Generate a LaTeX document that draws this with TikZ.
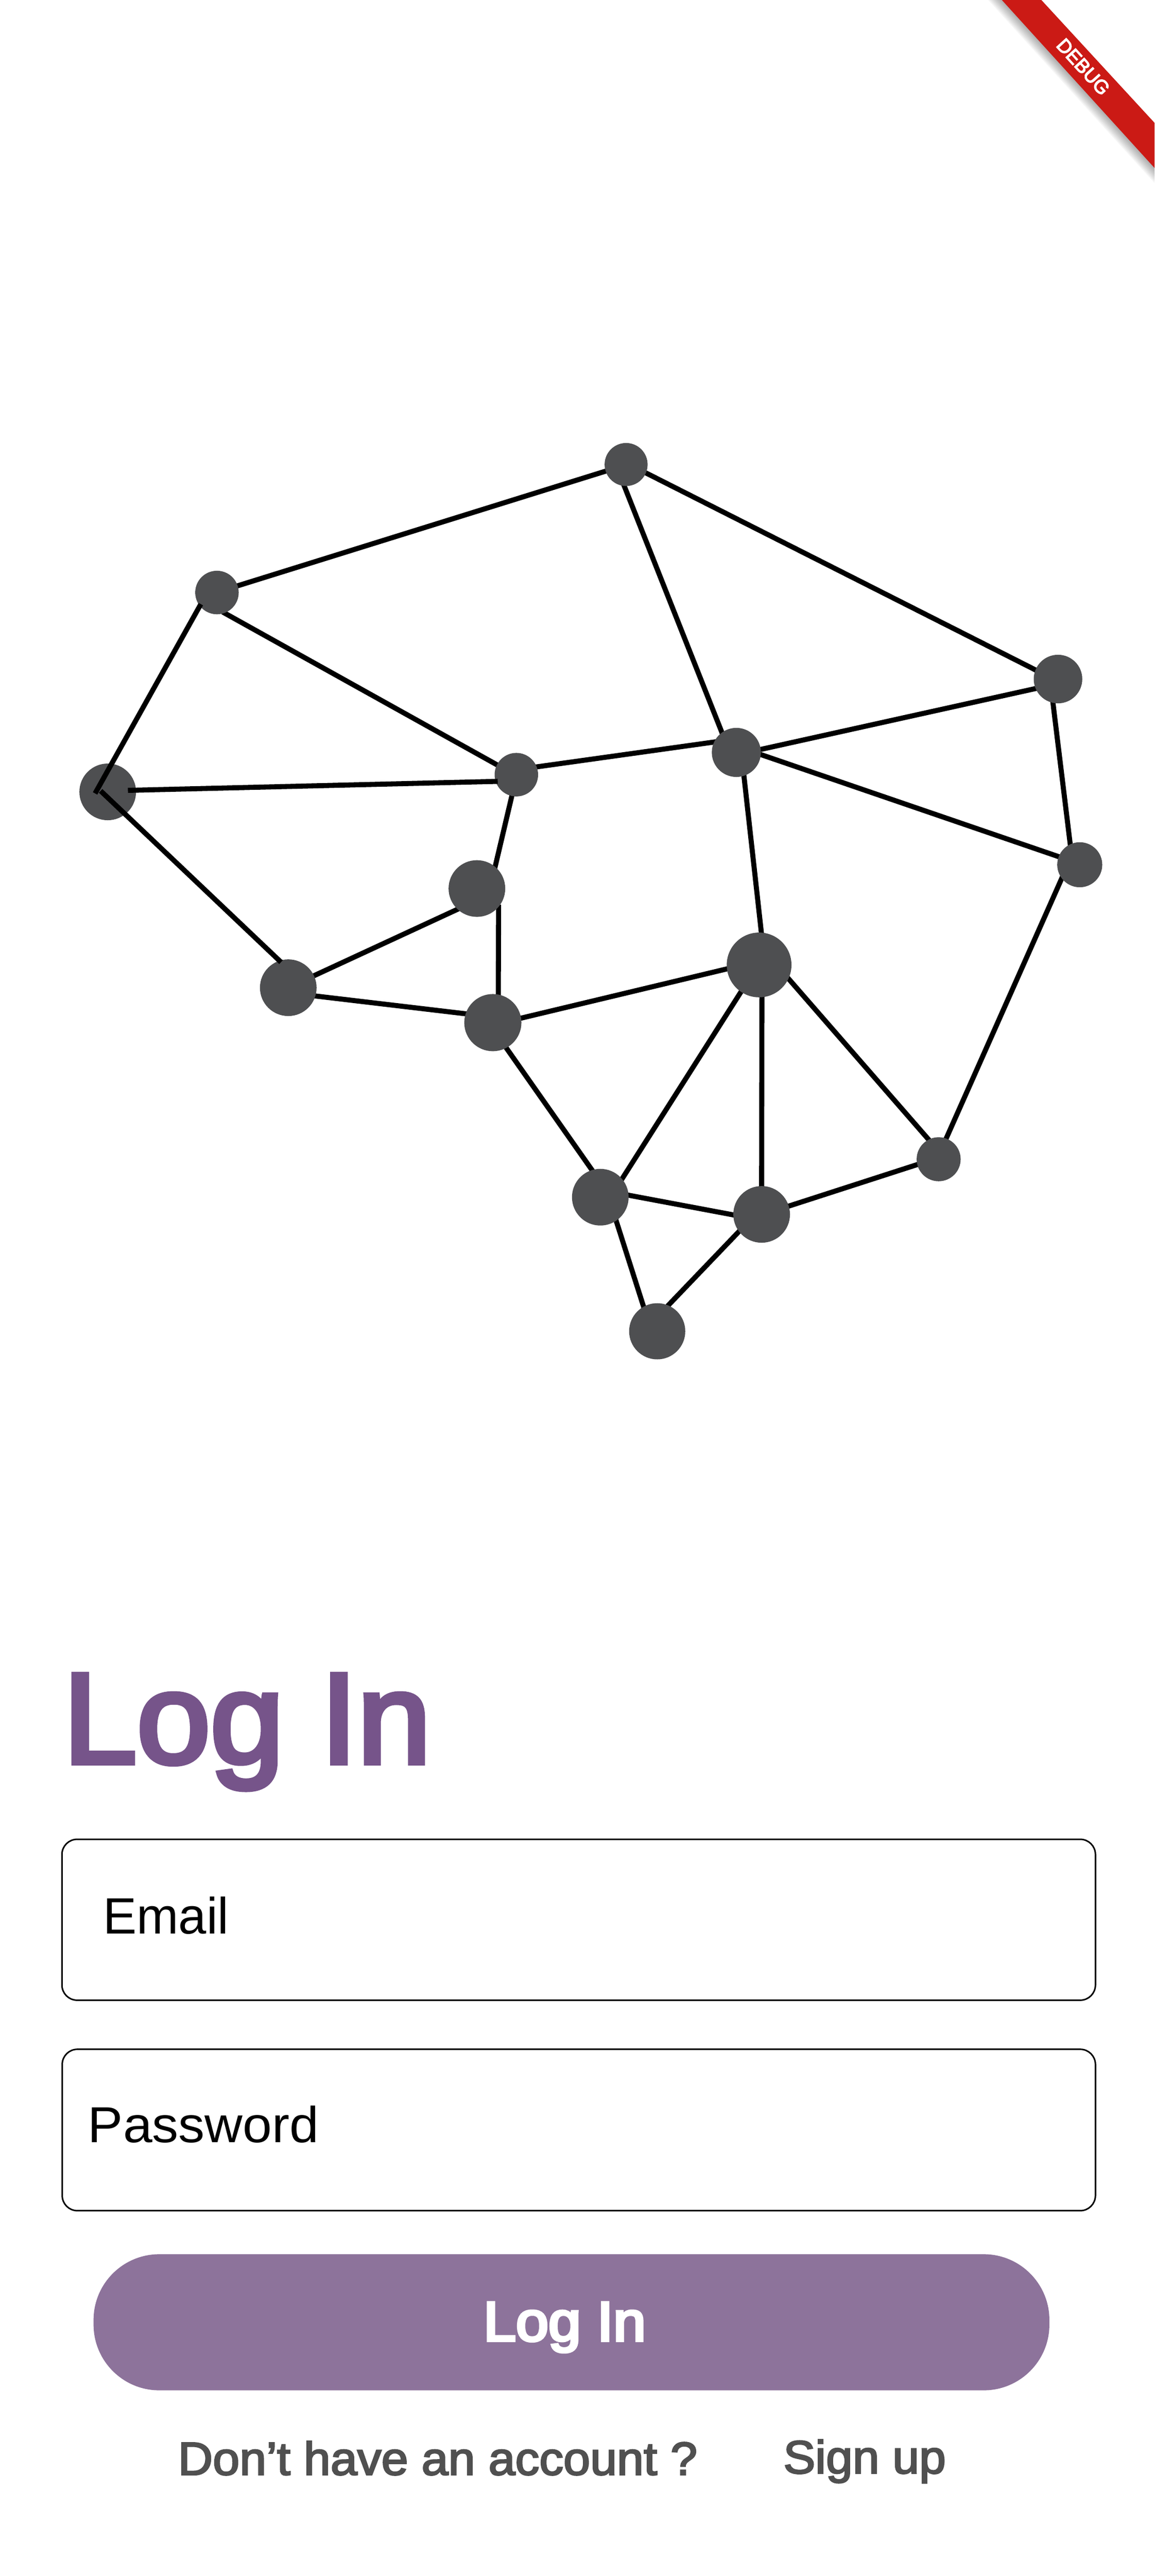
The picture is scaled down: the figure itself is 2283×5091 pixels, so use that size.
\documentclass[tikz,border=0pt]{standalone}
\usepackage{fontspec}
\setmainfont{Liberation Sans}
\newfontfamily\titlef[FakeBold=4]{Liberation Sans}
\newfontfamily\medf[FakeBold=3]{Liberation Sans}
\newfontfamily\tinyf[FakeBold=4]{Liberation Sans}
\newfontfamily\semif[FakeBold=5]{Liberation Sans}
\usetikzlibrary{backgrounds}
\definecolor{dotgray}{HTML}{4E4F51}
\definecolor{titlepurple}{HTML}{76548A}
\definecolor{btnpurple}{HTML}{8D739B}
\definecolor{bannerred}{HTML}{CB1A15}
\definecolor{mutedtext}{HTML}{505050}
\tikzset{
  dot/.style={circle,fill=dotgray,draw=none,inner sep=0pt,outer sep=0pt,minimum size=#1},
  link/.style={draw=black,line width=10pt,shorten <=-4pt,shorten >=-4pt},
  toplink/.style={draw=black,line width=10pt},
  inputbox/.style={draw=black,line width=3pt,rounded corners=30pt,fill=white},
  lbl/.style={anchor=base west,inner sep=0pt,outer sep=0pt}
}
\begin{document}
\begin{tikzpicture}[x=1pt,y=-1pt]
\path[use as bounding box] (0,0) rectangle (2283,5091);
% banner
\begin{scope}
\clip (0,0) rectangle (2283,5091);
\foreach \k in {3,6,...,27}{
  \fill[black,opacity=0.04] (1981-\k,0) -- (2283,{332+1.1*\k}) -- (2283,243) -- (2059,0) -- cycle;
}
\fill[bannerred] (1981,0) -- (2059,0) -- (2283,243) -- (2283,332) -- cycle;
\end{scope}
\node[text=white,inner sep=0pt,rotate=-47.7] (debug) at (2142,132) {\fontsize{38}{38}\tinyf DEBUG};
% graph nodes
\node[dot=85pt] (A) at (1238,918) {};
\node[dot=86pt] (B) at (429,1171) {};
\node[dot=112pt] (C) at (213,1565) {};
\node[dot=96pt] (D) at (2092,1342) {};
\node[dot=89pt] (E) at (2135,1709) {};
\node[dot=97pt] (F) at (1456,1487) {};
\node[dot=86pt] (G) at (1021,1531) {};
\node[dot=112pt] (H) at (943,1756) {};
\node[dot=112pt] (I) at (570,1952) {};
\node[dot=113pt] (J) at (974.5,2021) {};
\node[dot=128pt] (K) at (1501,1907) {};
\node[dot=87pt] (L) at (1856,2291) {};
\node[dot=112pt] (M) at (1506,2400) {};
\node[dot=112pt] (N) at (1187,2366) {};
\node[dot=111pt] (O) at (1299.5,2631) {};
\coordinate (cb) at (188,1568);
\coordinate (ci) at (199,1563);
\coordinate (cg) at (253,1562);
\begin{scope}[on background layer]
\draw[link] (A.198) -- (B.18);
\draw[link] (A.337) -- (D.158);
\draw[link] (A.265) -- (F.126);
\draw[link] (B.290) -- (G.153);
\draw[link] (G.21) -- (F.155);
\draw[link] (F.7) -- (D.203);
\draw[link] (F.355) -- (E.159);
\draw[link] (F.288) -- (K.86);
\draw[link] (D.258) -- (E.115);
\draw[link] (E.217) -- (L.70);
\draw[link] (K.335) -- (L.117);
\draw[link] (K.275) -- (M.90);
\draw[link] (K.236) -- (N.40);
\draw[link] (K.187) -- (J.9);
\draw[link] (J.79) -- (H.320);
\draw[link] (G.258) -- (H.50);
\draw[link] (H.227) -- (I.25);
\draw[link] (I.343) -- (J.162);
\draw[link] (J.298) -- (N.107);
\draw[link] (N.4) -- (M.181);
\draw[link] (N.304) -- (O.119);
\draw[link] (M.217) -- (O.67);
\draw[link] (M.17) -- (L.194);
\end{scope}
\draw[toplink,shorten <=-4pt] (B.218) -- (cb);
\draw[toplink,shorten <=-4pt] (G.198) -- (cg);
\draw[toplink,shorten <=-4pt] (I.108) -- (ci);
% form
\node[lbl,text=titlepurple] (title) at (125,3484) {\scalebox{1.03}[1]{\fontsize{254}{254}\titlef Log In}};
\draw[inputbox] (122.5,3635) rectangle (2166,3953);
\node[lbl] (email) at (204,3822) {\scalebox{0.985}[1]{\fontsize{101}{101}\selectfont Email}};
\draw[inputbox] (123,4050) rectangle (2166,4369);
\node[lbl] (password) at (174,4234) {\scalebox{1.04}[1]{\fontsize{100}{100}\selectfont Password}};
\fill[btnpurple,rounded corners=130pt] (185,4455) rectangle (2075,4724);
\node[lbl,text=white] (btn) at (956,4626) {\scalebox{1.05}[1]{\fontsize{110}{110}\semif Log In}};
\node[lbl,text=mutedtext] (ask) at (352,4891) {\scalebox{1.035}[1]{\fontsize{92}{92}\medf Don’t have an account ?}};
\node[lbl,text=mutedtext] (signup) at (1549,4888) {\scalebox{1.03}[1]{\fontsize{92}{92}\medf Sign up}};
\end{tikzpicture}
\end{document}
